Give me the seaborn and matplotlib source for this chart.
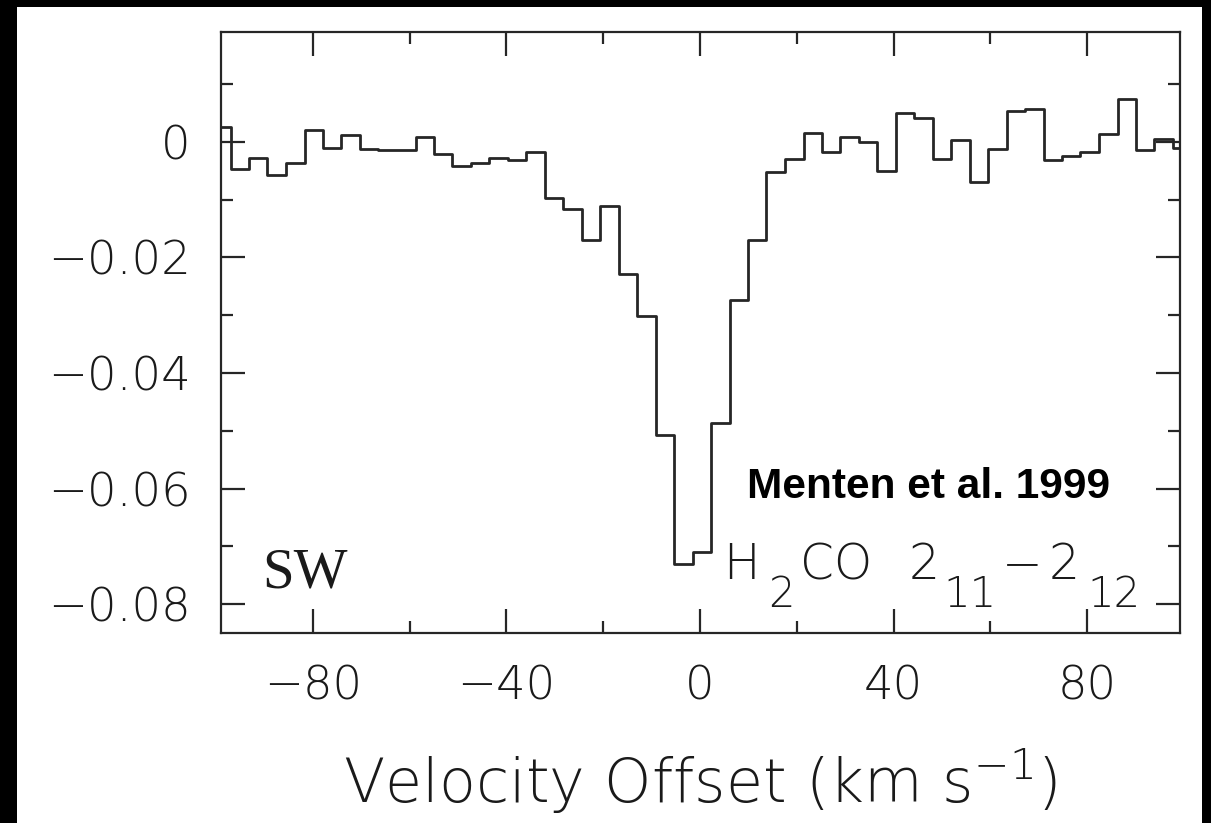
import numpy as np
import pandas as pd
import matplotlib
matplotlib.use("Agg")
import matplotlib.pyplot as plt
from matplotlib.ticker import MultipleLocator, FixedLocator, FixedFormatter
from matplotlib.patches import Rectangle
import seaborn as sns

# ---- data ----
velocity = [-98.9, -95.1, -91.3, -87.5, -83.6, -79.8, -76.0, -72.2, -68.4, -64.5,
            -60.7, -56.9, -53.1, -49.3, -45.5, -41.6, -37.8, -34.0, -30.2, -26.4,
            -22.5, -18.7, -14.9, -11.1, -7.3, -3.5, 0.4, 4.2, 8.0, 11.8,
            15.6, 19.5, 23.3, 27.1, 30.9, 34.7, 38.5, 42.4, 46.2, 50.0,
            53.8, 57.6, 61.5, 65.3, 69.1, 72.9, 76.7, 80.5, 84.4, 88.2,
            92.0, 95.8, 99.6]
flux = [0.0025, -0.0047, -0.0028, -0.0057, -0.0037, 0.0021, -0.0010, 0.0011, -0.0013, -0.0015,
        -0.0015, 0.0008, -0.0021, -0.0042, -0.0037, -0.0028, -0.0031, -0.0017, -0.0097, -0.0116,
        -0.0170, -0.0111, -0.0229, -0.0301, -0.0508, -0.0731, -0.0709, -0.0487, -0.0274, -0.0170,
        -0.0052, -0.0030, 0.0016, -0.0017, 0.0009, 0.0000, -0.0051, 0.0050, 0.0042, -0.0029,
        0.0003, -0.0070, -0.0012, 0.0054, 0.0056, -0.0032, -0.0024, -0.0017, 0.0013, 0.0074,
        -0.0015, 0.0005, -0.0010]
xtick_values = [-80, -40, 0, 40, 80]
xtick_labels = ["\u221280", "\u221240", "0", "40", "80"]
ytick_values = [-0.08, -0.06, -0.04, -0.02, 0.0]
ytick_labels = ["\u22120.08", "\u22120.06", "\u22120.04", "\u22120.02", "0"]
# line label, split into normal-size parts and (large) subscript parts
line_parts = ["H", "2", "CO", "2", "11", "\u2212", "2", "12"]
line_is_sub = [False, True, False, False, True, False, False, True]
df = pd.DataFrame({"velocity": velocity, "flux": flux})

sns.set_theme(style="ticks")
plt.rcParams["font.family"] = ["DejaVu Sans"]
plt.rcParams["mathtext.fontset"] = "custom"
plt.rcParams["mathtext.rm"] = "DejaVu Sans:weight=200"
plt.rcParams["mathtext.default"] = "regular"

W, H = 1211, 823
fig = plt.figure(figsize=(W / 100, H / 100), dpi=100, facecolor="black")
bg = Rectangle((17 / W, 0), 1185 / W, 816 / H, transform=fig.transFigure,
               facecolor="white", edgecolor="none", zorder=-10)
fig.patches.append(bg)
ax_l, ax_r, ax_t, ax_b = 221, 1180, 32, 633
ax = fig.add_axes([ax_l / W, (H - ax_b) / H, (ax_r - ax_l) / W, (ax_b - ax_t) / H])
ax.set_zorder(5)
ax.set_facecolor("white")

sns.lineplot(data=df, x="velocity", y="flux", ax=ax, drawstyle="steps-mid",
             color="#262626", linewidth=2.0, sort=True, estimator=None)

ax.set_xlim(-99.0, 99.2)
ax.set_ylim(-0.0850, 0.0190)

ax.xaxis.set_major_locator(FixedLocator(xtick_values))
ax.xaxis.set_major_formatter(FixedFormatter(xtick_labels))
ax.xaxis.set_minor_locator(MultipleLocator(20))
ax.yaxis.set_major_locator(FixedLocator(ytick_values))
ax.yaxis.set_major_formatter(FixedFormatter(ytick_labels))
ax.yaxis.set_minor_locator(MultipleLocator(0.01))

for s in ax.spines.values():
    s.set_visible(True)
    s.set_color("#262626")
    s.set_linewidth(1.6)

ax.tick_params(which="major", direction="in", length=17.3, width=1.6, color="#262626",
               top=True, right=True, labelsize=33.5, labelcolor="#1a1a1a")
ax.tick_params(which="minor", direction="in", length=8.8, width=1.6, color="#262626",
               top=True, right=True)
ax.tick_params(axis="x", which="major", pad=23)
ax.tick_params(axis="y", which="major", pad=22)
for lab in ax.get_xticklabels() + ax.get_yticklabels():
    lab.set_fontweight(200)

ax.set_ylabel("")
ax.set_xlabel("Velocity Offset (km s$^{-1}$)", fontsize=43.5, fontweight=200,
              color="#1a1a1a", labelpad=27)


def axfrac(px, py):
    return (px - ax_l) / (ax_r - ax_l), (ax_b - py) / (ax_b - ax_t)


ax.text(*axfrac(262, 587), "SW", transform=ax.transAxes, ha="left", va="baseline",
        fontsize=41, family=["Liberation Serif", "DejaVu Serif"], color="#1a1a1a")

# H2CO 2_11 - 2_12 with large subscripts, laid out piece by piece (centres)
part_cx = [741, 781, 836, 924, 970, 1022, 1064, 1114]
for txt, sub, px in zip(line_parts, line_is_sub, part_cx):
    py = 607 if sub else 579
    ax.text(*axfrac(px, py), txt, transform=ax.transAxes, ha="center", va="baseline",
            fontsize=30 if sub else 35, fontweight=200, color="#1a1a1a")

ax.text(*axfrac(747, 498), "Menten et al. 1999", transform=ax.transAxes, ha="left",
        va="baseline", fontsize=30.5, fontweight="bold",
        family=["Liberation Sans", "DejaVu Sans"], color="black")

fig.savefig("out.png", dpi=100, facecolor=fig.get_facecolor())
